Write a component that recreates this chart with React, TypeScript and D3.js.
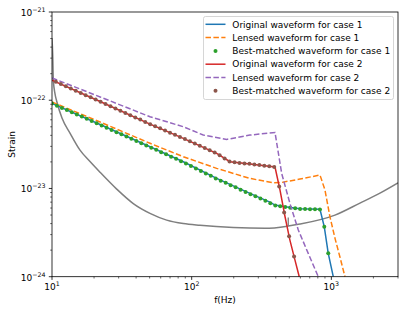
import * as d3 from "d3";

// frequencies (Hz) and strain values
const original1F = [10, 22.1, 50.3, 87.1, 151, 261, 363, 395, 466, 596, 829, 890, 950, 1032];
const original1H = [9.18e-23, 5.3e-23, 2.97e-23, 2.01e-23, 1.3e-23, 8.8e-24, 7.0e-24, 6.48e-24, 6.2e-24, 5.89e-24, 5.8e-24, 3.68e-24, 1.84e-24, 1.0e-24];

const lensed1F = [10, 22.1, 50.3, 87.1, 151, 261, 382, 441, 596, 829, 900, 977, 1061, 1152, 1252];
const lensed1H = [9.55e-23, 5.66e-23, 3.25e-23, 2.29e-23, 1.69e-23, 1.3e-23, 1.16e-23, 1.17e-23, 1.28e-23, 1.42e-23, 9.6e-24, 4.78e-24, 2.74e-24, 1.67e-24, 1.0e-24];

const best1F = [
  10, 10.85, 11.78, 12.78, 13.87, 15.05, 16.34, 17.73, 19.24, 20.88,
  22.66, 24.59, 26.69, 28.96, 31.43, 34.12, 37.02, 40.18, 43.61, 47.32,
  51.36, 55.72, 60.48, 65.63, 71.23, 77.3, 83.9, 91.0, 98.8, 107.2,
  116.4, 126.3, 137.0, 148.7, 161.4, 175.2, 190.0, 206.3, 223.9, 243.0,
  263.6, 286.2, 310.6, 337.0, 365.7, 396.9, 430.7, 467.4, 507.3, 550.6,
  597.5, 648.4, 703.6, 763.7, 828.6, 890, 950,
];
const best1H = [
  9.18e-23, 8.66e-23, 8.18e-23, 7.73e-23, 7.3e-23, 6.9e-23, 6.52e-23, 6.15e-23, 5.81e-23, 5.49e-23,
  5.18e-23, 4.89e-23, 4.61e-23, 4.35e-23, 4.11e-23, 3.88e-23, 3.66e-23, 3.46e-23, 3.26e-23, 3.07e-23,
  2.9e-23, 2.74e-23, 2.58e-23, 2.44e-23, 2.29e-23, 2.17e-23, 2.04e-23, 1.92e-23, 1.8e-23, 1.68e-23,
  1.58e-23, 1.48e-23, 1.39e-23, 1.3e-23, 1.22e-23, 1.16e-23, 1.09e-23, 1.03e-23, 9.67e-24, 9.13e-24,
  8.6e-24, 8.14e-24, 7.68e-24, 7.25e-24, 6.79e-24, 6.43e-24, 6.28e-24, 6.15e-24, 6.06e-24, 5.95e-24,
  5.87e-24, 5.86e-24, 5.83e-24, 5.81e-24, 5.79e-24, 3.68e-24, 1.84e-24,
];

const original2F = [10, 22.1, 50.3, 87.1, 151, 188, 261, 395, 429, 466, 505, 549, 589];
const original2H = [1.69e-22, 9.66e-23, 5.37e-23, 3.7e-23, 2.5e-23, 2.01e-23, 1.89e-23, 1.75e-23, 9.6e-24, 4.78e-24, 2.6e-24, 1.54e-24, 1.0e-24];

const lensed2F = [10, 22.1, 50.3, 87.1, 121, 178, 261, 395, 441, 505, 580, 683, 806];
const lensed2H = [1.79e-22, 1.09e-22, 6.5e-23, 5.01e-23, 4.03e-23, 3.6e-23, 4.03e-23, 4.31e-23, 1.48e-23, 6.78e-24, 3.38e-24, 1.84e-24, 1.0e-24];

const best2F = [
  10.66, 11.57, 12.56, 13.63, 14.79, 16.05, 17.42, 18.91, 20.52, 22.26,
  24.16, 26.22, 28.46, 30.88, 33.52, 36.37, 39.48, 42.84, 46.5, 50.46,
  54.76, 59.42, 64.49, 69.98, 75.95, 82.41, 89.44, 97.07, 105.3, 114.3,
  124.1, 134.6, 146.1, 158.6, 172.1, 186.7, 202.7, 219.9, 238.7, 259.1,
  281.1, 305.1, 331.1, 359.3, 390.0, 423.2, 459.3, 498.4, 540.9,
];
const best2H = [
  1.62e-22, 1.53e-22, 1.44e-22, 1.36e-22, 1.28e-22, 1.21e-22, 1.14e-22, 1.08e-22, 1.02e-22, 9.59e-23,
  9.06e-23, 8.55e-23, 8.05e-23, 7.6e-23, 7.18e-23, 6.76e-23, 6.38e-23, 6.03e-23, 5.68e-23, 5.36e-23,
  5.07e-23, 4.8e-23, 4.53e-23, 4.29e-23, 4.06e-23, 3.84e-23, 3.63e-23, 3.42e-23, 3.23e-23, 3.05e-23,
  2.87e-23, 2.71e-23, 2.56e-23, 2.38e-23, 2.19e-23, 2.02e-23, 1.98e-23, 1.95e-23, 1.92e-23, 1.9e-23,
  1.87e-23, 1.84e-23, 1.81e-23, 1.78e-23, 1.75e-23, 1.05e-23, 5.34e-24, 2.88e-24, 1.69e-24,
];

// detector noise curve
const noiseF = [10, 10.12, 10.22, 10.51, 10.86, 11.79, 13.45, 15.87, 18.71, 22.06, 29.05, 38.19, 50.29, 66.22, 87.1, 114.7, 198.6, 334.8, 491.4, 596.3, 1061, 1602, 2228, 3000];
const noiseH = [5.07e-22, 3.25e-22, 1.69e-22, 1.18e-22, 9.5e-23, 6.28e-23, 4.25e-23, 2.72e-23, 2.02e-23, 1.53e-23, 9.84e-24, 6.74e-24, 5.22e-24, 4.38e-24, 4.0e-24, 3.82e-24, 3.6e-24, 3.53e-24, 3.75e-24, 3.95e-24, 4.99e-24, 6.83e-24, 8.87e-24, 1.16e-23];
const spikeF = [491.4, 491.4];
const spikeH = [3.75e-24, 4.7e-24];

const legendLabels = [
  "Original waveform for case 1",
  "Lensed waveform for case 1",
  "Best-matched waveform for case 1",
  "Original waveform for case 2",
  "Lensed waveform for case 2",
  "Best-matched waveform for case 2",
];

const xMajor = [10, 100, 1000];
const yMajor = [1e-24, 1e-23, 1e-22, 1e-21];

const width = 415;
const height = 311;
const marginLeft = 52;
const marginRight = 17;
const marginTop = 12;
const marginBottom = 34.3;

const font = "DejaVu Sans, sans-serif";

const zip = (f: number[], h: number[]) => f.map((v, i) => [v, h[i]] as [number, number]);

const App = () => {
  const xScale = d3
    .scaleLog()
    .domain([10, 3000])
    .range([marginLeft, width - marginRight]);
  const yScale = d3
    .scaleLog()
    .domain([1e-24, 1e-21])
    .range([height - marginBottom, marginTop]);

  const lineFunc = d3
    .line<[number, number]>()
    .x((d) => xScale(d[0]))
    .y((d) => yScale(d[1]));
  const smoothLine = d3
    .line<[number, number]>()
    .x((d) => xScale(d[0]))
    .y((d) => yScale(d[1]))
    .curve(d3.curveMonotoneX);

  const x0 = marginLeft;
  const x1 = width - marginRight;
  const y0 = height - marginBottom;
  const y1 = marginTop;

  const xMinor = xScale.ticks().filter((t) => !xMajor.includes(t));
  const yMinor: number[] = [];
  [1e-24, 1e-23, 1e-22].forEach((dec) => {
    for (let m = 2; m <= 9; m++) yMinor.push(m * dec);
  });

  const lw = 1.5;
  const dash = "5.5,2.4";
  const dotR = 2;

  const legendX = 203.5;
  const legendY = 16.5;
  const rowH = 13.3;
  const handles = [
    { color: "#1f77b4", type: "line" },
    { color: "#ff7f0e", type: "dash" },
    { color: "#2ca02c", type: "dot" },
    { color: "#d62728", type: "line" },
    { color: "#9467bd", type: "dash" },
    { color: "#8c564b", type: "dot" },
  ];

  return (
    <svg
      width={width}
      height={height}
      style={{ position: "absolute", left: 0, top: 0, background: "#fff" }}
      fontFamily={font}
    >
      <defs>
        <clipPath id="plot-area">
          <rect x={x0} y={y1} width={x1 - x0} height={y0 - y1} />
        </clipPath>
      </defs>

      <g clipPath="url(#plot-area)">
        <path d={smoothLine(zip(noiseF, noiseH)) ?? ""} fill="none" stroke="#7f7f7f" strokeWidth={1.5} />
        <path d={lineFunc(zip(spikeF, spikeH)) ?? ""} fill="none" stroke="#7f7f7f" strokeWidth={1.3} />

        <path d={lineFunc(zip(original1F, original1H)) ?? ""} fill="none" stroke="#1f77b4" strokeWidth={lw} />
        <path d={lineFunc(zip(lensed1F, lensed1H)) ?? ""} fill="none" stroke="#ff7f0e" strokeWidth={lw} strokeDasharray={dash} />
        {zip(best1F, best1H).map((d, i) => (
          <circle key={"b1" + i} cx={xScale(d[0])} cy={yScale(d[1])} r={dotR} fill="#2ca02c" />
        ))}

        <path d={lineFunc(zip(original2F, original2H)) ?? ""} fill="none" stroke="#d62728" strokeWidth={lw} />
        <path d={lineFunc(zip(lensed2F, lensed2H)) ?? ""} fill="none" stroke="#9467bd" strokeWidth={lw} strokeDasharray={dash} />
        {zip(best2F, best2H).map((d, i) => (
          <circle key={"b2" + i} cx={xScale(d[0])} cy={yScale(d[1])} r={dotR} fill="#8c564b" />
        ))}
      </g>

      {/* axes frame */}
      <rect x={x0} y={y1} width={x1 - x0} height={y0 - y1} fill="none" stroke="#000" strokeWidth={0.8} />

      {/* x ticks */}
      {xMajor.map((t) => (
        <g key={"xt" + t}>
          <line x1={xScale(t)} x2={xScale(t)} y1={y0} y2={y0 + 3.2} stroke="#000" strokeWidth={0.8} />
          <text x={xScale(t)} y={y0 + 13.5} fontSize={9} textAnchor="middle">
            <tspan>10</tspan>
            <tspan dy={-4} fontSize={6.3}>{Math.round(Math.log10(t))}</tspan>
          </text>
        </g>
      ))}
      {xMinor.map((t) => (
        <line key={"xm" + t} x1={xScale(t)} x2={xScale(t)} y1={y0} y2={y0 + 1.8} stroke="#000" strokeWidth={0.6} />
      ))}

      {/* y ticks */}
      {yMajor.map((t) => (
        <g key={"yt" + t}>
          <line x1={x0 - 3.2} x2={x0} y1={yScale(t)} y2={yScale(t)} stroke="#000" strokeWidth={0.8} />
          <text x={x0 - 6.5} y={yScale(t) + 4} fontSize={9} textAnchor="end">
            <tspan>10</tspan>
            <tspan dy={-4} fontSize={6.3}>{"\u2212" + Math.abs(Math.round(Math.log10(t)))}</tspan>
          </text>
        </g>
      ))}
      {yMinor.map((t) => (
        <line key={"ym" + t} x1={x0 - 1.8} x2={x0} y1={yScale(t)} y2={yScale(t)} stroke="#000" strokeWidth={0.6} />
      ))}

      <text x={(x0 + x1) / 2} y={303} fontSize={9} textAnchor="middle">f(Hz)</text>
      <text transform={`translate(15, ${(y0 + y1) / 2}) rotate(-90)`} fontSize={9} textAnchor="middle">Strain</text>

      {/* legend */}
      <rect x={legendX} y={legendY} width={190} height={83} rx={2} fill="#fff" fillOpacity={0.8} stroke="#cccccc" strokeWidth={0.8} />
      {legendLabels.map((label, i) => {
        const cy = legendY + 7.8 + i * rowH;
        const h = handles[i];
        return (
          <g key={"lg" + i}>
            {h.type === "dot" ? (
              <circle cx={215.5} cy={cy} r={dotR} fill={h.color} />
            ) : (
              <line x1={205.5} x2={225.5} y1={cy} y2={cy} stroke={h.color} strokeWidth={lw} strokeDasharray={h.type === "dash" ? dash : undefined} />
            )}
            <text x={232.3} y={cy + 3.2} fontSize={9}>{label}</text>
          </g>
        );
      })}
    </svg>
  );
};

export default App;
